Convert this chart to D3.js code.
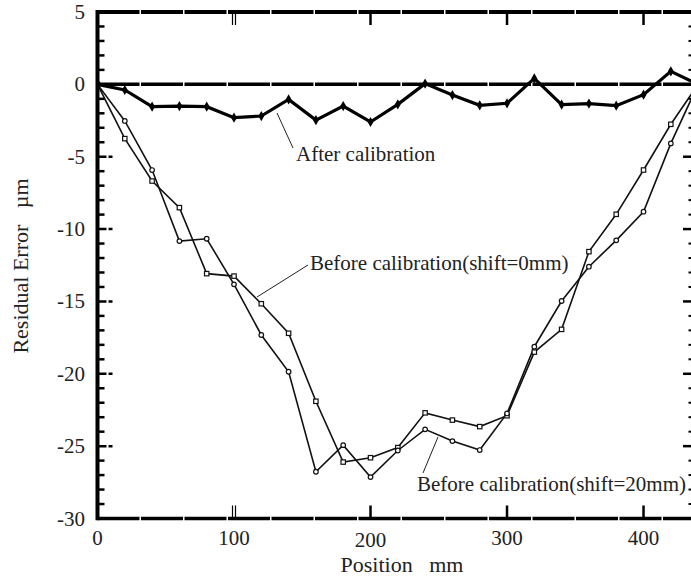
<!DOCTYPE html>
<html>
<head>
<meta charset="utf-8">
<script src="https://cdn.jsdelivr.net/npm/d3@7"></script>
<style>
  body { margin: 0; background: #fff; }
  svg text { font-family: "Liberation Serif", "DejaVu Serif", serif; fill: #222; }
</style>
</head>
<body>
<div id="chart"></div>
<script>
// positions along the stage (mm)
const positions = [0, 20, 40, 60, 80, 100, 120, 140, 160, 180, 200, 220, 240, 260, 280, 300, 320, 340, 360, 380, 400, 420, 440]

// residual error (um)
const afterCal = [0, -0.39, -1.54, -1.5, -1.54, -2.3, -2.19, -1.04, -2.47, -1.5, -2.6, -1.38, 0.05, -0.74, -1.45, -1.31, 0.41, -1.4, -1.33, -1.47, -0.71, 0.9, 0]
const beforeShift0 = [0, -3.75, -6.68, -8.52, -13.08, -13.25, -15.16, -17.2, -21.9, -26.1, -25.8, -25.1, -22.7, -23.2, -23.65, -22.9, -18.5, -16.93, -11.56, -8.98, -5.92, -2.76, 0]
const beforeShift20 = [0, -2.53, -5.92, -10.83, -10.67, -13.82, -17.32, -19.86, -26.77, -24.93, -27.14, -25.3, -23.84, -24.65, -25.27, -22.74, -18.13, -14.97, -12.6, -10.78, -8.8, -4.08, 0]

const xTicks = [0, 100, 200, 300, 400]
const yTicks = [5, 0, -5, -10, -15, -20, -25, -30]

const width = 691, height = 577
const mLeft = 97.5, mRight = 691.3, mTop = 12, mBottom = 518.5

const x = d3.scaleLinear().domain([0, 435]).range([mLeft, mRight])
const y = d3.scaleLinear().domain([-30, 5]).range([mBottom, mTop])

const svg = d3.select("#chart")
    .append("svg")
    .attr("width", width)
    .attr("height", height)

svg.append("clipPath")
    .attr("id", "plotClip")
    .append("rect")
    .attr("x", mLeft)
    .attr("y", mTop)
    .attr("width", mRight - mLeft)
    .attr("height", mBottom - mTop)

const plot = svg.append("g").attr("clip-path", "url(#plotClip)")

// frame and zero line
const dash = "42,1.5"
svg.append("line")
    .attr("x1", mLeft).attr("x2", width).attr("y1", mTop).attr("y2", mTop)
    .attr("stroke", "#000").attr("stroke-width", 4).attr("stroke-dasharray", dash)
svg.append("line")
    .attr("x1", mLeft).attr("x2", width).attr("y1", mBottom).attr("y2", mBottom)
    .attr("stroke", "#000").attr("stroke-width", 3.5).attr("stroke-dasharray", dash)
svg.append("line")
    .attr("x1", mLeft).attr("x2", mLeft).attr("y1", mTop - 2).attr("y2", mBottom + 1.75)
    .attr("stroke", "#000").attr("stroke-width", 4)
svg.append("line")
    .attr("x1", mLeft).attr("x2", width).attr("y1", y(0)).attr("y2", y(0))
    .attr("stroke", "#000").attr("stroke-width", 3.5).attr("stroke-dasharray", dash)

// minor ticks on left (inward) and right edge
const minor = d3.range(-30, 5, 1)
svg.append("g").selectAll("line")
    .data(minor.filter(v => v % 5 !== 0))
    .join("line")
    .attr("x1", mLeft).attr("x2", mLeft + 7)
    .attr("y1", d => y(d)).attr("y2", d => y(d))
    .attr("stroke", "#000").attr("stroke-width", 2.5)

svg.append("g").selectAll("line")
    .data(yTicks.filter(v => v < 0 && v > -30))
    .join("line")
    .attr("x1", mLeft).attr("x2", mLeft + 15)
    .attr("y1", d => y(d)).attr("y2", d => y(d))
    .attr("stroke", "#000").attr("stroke-width", 2.5)
    .attr("stroke-dasharray", "9,2,4")

svg.append("g").selectAll("line")
    .data(minor.filter(v => v % 5 !== 0))
    .join("line")
    .attr("x1", width - 2.5).attr("x2", width)
    .attr("y1", d => y(d)).attr("y2", d => y(d))
    .attr("stroke", "#000").attr("stroke-width", 2)

svg.append("g").selectAll("line")
    .data(yTicks.filter(v => v < 0 && v > -30))
    .join("line")
    .attr("x1", width - 8).attr("x2", width)
    .attr("y1", d => y(d)).attr("y2", d => y(d))
    .attr("stroke", "#000").attr("stroke-width", 2.5)

// x ticks on top and bottom
xTicks.filter(v => v > 0).forEach(v => {
    const offs = v === 100 ? [-1.5, 1.5] : [0]
    offs.forEach(o => {
        svg.append("line")
            .attr("x1", x(v) + o).attr("x2", x(v) + o)
            .attr("y1", mTop).attr("y2", mTop + 13)
            .attr("stroke", "#000").attr("stroke-width", v === 100 ? 1.2 : 2.5)
        svg.append("line")
            .attr("x1", x(v) + o).attr("x2", x(v) + o)
            .attr("y1", mBottom).attr("y2", mBottom - 13)
            .attr("stroke", "#000").attr("stroke-width", v === 100 ? 1.2 : 2.5)
    })
})

// series
const line = vals => d3.line()
    .x((d, i) => x(positions[i]))
    .y(d => y(d))(vals)

plot.append("path")
    .attr("d", line(beforeShift0))
    .attr("fill", "none").attr("stroke", "#111").attr("stroke-width", 1.6)
plot.append("path")
    .attr("d", line(beforeShift20))
    .attr("fill", "none").attr("stroke", "#111").attr("stroke-width", 1.6)
plot.append("path")
    .attr("d", line(afterCal))
    .attr("fill", "none").attr("stroke", "#000").attr("stroke-width", 3.2)

plot.append("g").selectAll("rect")
    .data(beforeShift0)
    .join("rect")
    .attr("x", (d, i) => x(positions[i]) - 2.2)
    .attr("y", d => y(d) - 2.2)
    .attr("width", 4.4).attr("height", 4.4)
    .attr("fill", "#fff").attr("stroke", "#111").attr("stroke-width", 1.2)

plot.append("g").selectAll("circle")
    .data(beforeShift20)
    .join("circle")
    .attr("cx", (d, i) => x(positions[i]))
    .attr("cy", d => y(d))
    .attr("r", 2.3)
    .attr("fill", "#fff").attr("stroke", "#111").attr("stroke-width", 1.2)

plot.append("g").selectAll("path")
    .data(afterCal)
    .join("path")
    .attr("d", d3.symbol(d3.symbolDiamond, 30))
    .attr("transform", (d, i) => `translate(${x(positions[i])},${y(d)})`)
    .attr("fill", "#000")

// tick labels
svg.append("g").selectAll("text")
    .data(yTicks)
    .join("text")
    .attr("x", 85)
    .attr("y", d => y(d) + 7)
    .attr("text-anchor", "end")
    .style("font-size", "21px")
    .text(d => d)

svg.append("g").selectAll("text")
    .data(xTicks)
    .join("text")
    .attr("x", d => x(d))
    .attr("y", d => d === 200 ? 547 : 545)
    .attr("text-anchor", "middle")
    .style("font-size", "21px")
    .text(d => d)

// axis titles
svg.append("text")
    .attr("x", 402)
    .attr("y", 572)
    .attr("text-anchor", "middle")
    .style("font-size", "22px")
    .style("white-space", "pre")
    .text("Position   mm")

svg.append("text")
    .attr("transform", "translate(28,266) rotate(-90)")
    .attr("text-anchor", "middle")
    .style("font-size", "22px")
    .style("white-space", "pre")
    .text("Residual Error   µm")

// annotations
const notes = [
    { text: "After calibration", tx: 296, ty: 161, from: [293, 148], to: [277, 113] },
    { text: "Before calibration(shift=0mm)", tx: 310, ty: 270, from: [308, 265], to: [257, 297] },
    { text: "Before calibration(shift=20mm)", tx: 417, ty: 491, from: [423, 473], to: [438, 437] }
]
notes.forEach(n => {
    svg.append("line")
        .attr("x1", n.from[0]).attr("y1", n.from[1])
        .attr("x2", n.to[0]).attr("y2", n.to[1])
        .attr("stroke", "#222").attr("stroke-width", 1)
    svg.append("text")
        .attr("x", n.tx).attr("y", n.ty)
        .style("font-size", "21px")
        .text(n.text)
})
</script>
</body>
</html>
